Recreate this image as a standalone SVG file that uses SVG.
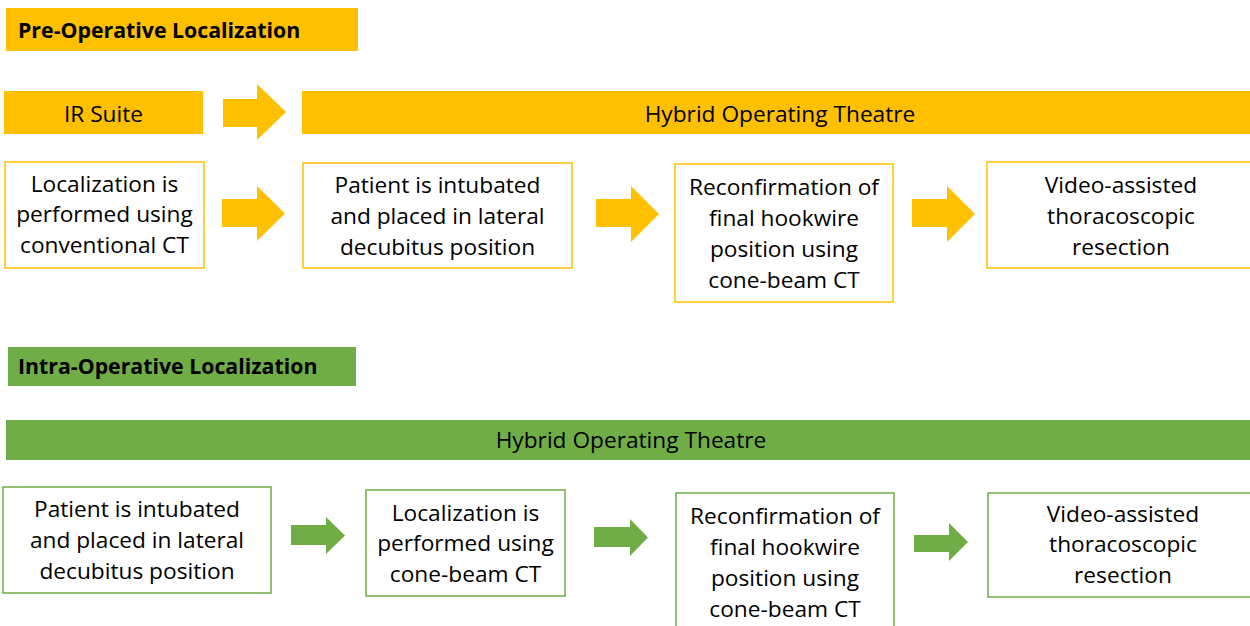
<svg xmlns="http://www.w3.org/2000/svg" width="1250" height="626" viewBox="0 0 1250 626">
<style>
.bg{fill:#fff}
.o{fill:#FFC000}
.g{fill:#70AD47}
.bo{fill:#fff;stroke:#FFC000;stroke-width:1.5}
.bgr{fill:#fff;stroke:#70AD47;stroke-width:1.5}
.t{font-family:"Open Sans","Liberation Sans",sans-serif;font-size:22.7px;fill:#000;text-anchor:middle}
.h{font-family:"Open Sans","Liberation Sans",sans-serif;font-size:21.3px;font-weight:bold;fill:#000}
</style>
<rect class="bg" x="0" y="0" width="1250" height="626"/>
<g id="pre-header"><rect class="o" x="6" y="8" width="352" height="43"/><text class="h" x="18" y="38">Pre-Operative Localization</text></g>
<g id="ir-suite"><rect class="o" x="4" y="91" width="199" height="43"/><text class="t" x="103.5" y="122">IR Suite</text></g>
<g id="hybrid-top"><rect class="o" x="302" y="91" width="948" height="43"/><text class="t" x="780" y="122">Hybrid Operating Theatre</text></g>
<g id="p1"><rect class="bo" x="5" y="162" width="199" height="106"/><text class="t" x="104.5" y="192">Localization is</text><text class="t" x="104.5" y="222">performed using</text><text class="t" x="104.5" y="253">conventional CT</text></g>
<g id="p2"><rect class="bo" x="303" y="163" width="269" height="105"/><text class="t" x="437.5" y="193">Patient is intubated</text><text class="t" x="437.5" y="224">and placed in lateral</text><text class="t" x="437.5" y="255">decubitus position</text></g>
<g id="p3"><rect class="bo" x="675" y="164" width="218" height="138"/><text class="t" x="784" y="195">Reconfirmation of</text><text class="t" x="784" y="226">final hookwire</text><text class="t" x="784" y="257">position using</text><text class="t" x="784" y="288">cone-beam CT</text></g>
<g id="p4"><rect class="bo" x="987" y="162" width="270" height="106"/><text class="t" x="1121" y="193">Video-assisted</text><text class="t" x="1121" y="224">thoracoscopic</text><text class="t" x="1121" y="255">resection</text></g>
<g id="intra-header"><rect class="g" x="8" y="347" width="348" height="39"/><text class="h" x="18" y="374">Intra-Operative Localization</text></g>
<g id="hybrid-bottom"><rect class="g" x="6" y="420" width="1244" height="40"/><text class="t" x="631" y="448">Hybrid Operating Theatre</text></g>
<g id="i1"><rect class="bgr" x="3" y="487" width="268" height="106"/><text class="t" x="137" y="517">Patient is intubated</text><text class="t" x="137" y="548">and placed in lateral</text><text class="t" x="137" y="579">decubitus position</text></g>
<g id="i2"><rect class="bgr" x="366" y="490" width="199" height="106"/><text class="t" x="465.5" y="521">Localization is</text><text class="t" x="465.5" y="551">performed using</text><text class="t" x="465.5" y="582">cone-beam CT</text></g>
<g id="i3"><rect class="bgr" x="676" y="493" width="218" height="140"/><text class="t" x="785" y="524">Reconfirmation of</text><text class="t" x="785" y="555">final hookwire</text><text class="t" x="785" y="586">position using</text><text class="t" x="785" y="617">cone-beam CT</text></g>
<g id="i4"><rect class="bgr" x="988" y="493" width="270" height="104"/><text class="t" x="1123" y="522">Video-assisted</text><text class="t" x="1123" y="552">thoracoscopic</text><text class="t" x="1123" y="583">resection</text></g>
<g id="connectors">
<polygon class="o" points="223,99 257,99 257,84 286,112 257,140 257,127 223,127"/>
<polygon class="o" points="222,199 257,199 257,186 285,213.5 257,241 257,227 222,227"/>
<polygon class="o" points="596,199 631,199 631,186 659,214 631,242 631,227 596,227"/>
<polygon class="o" points="912,199 947,199 947,186 975,214 947,242 947,227 912,227"/>
<polygon class="g" points="291,525 326,525 326,517 345,535.5 326,554 326,545 291,545"/>
<polygon class="g" points="594,527 630,527 630,519 648,537.5 630,556 630,547 594,547"/>
<polygon class="g" points="914,535 949,535 949,523 968,542 949,561 949,552 914,552"/>
</g>
</svg>
